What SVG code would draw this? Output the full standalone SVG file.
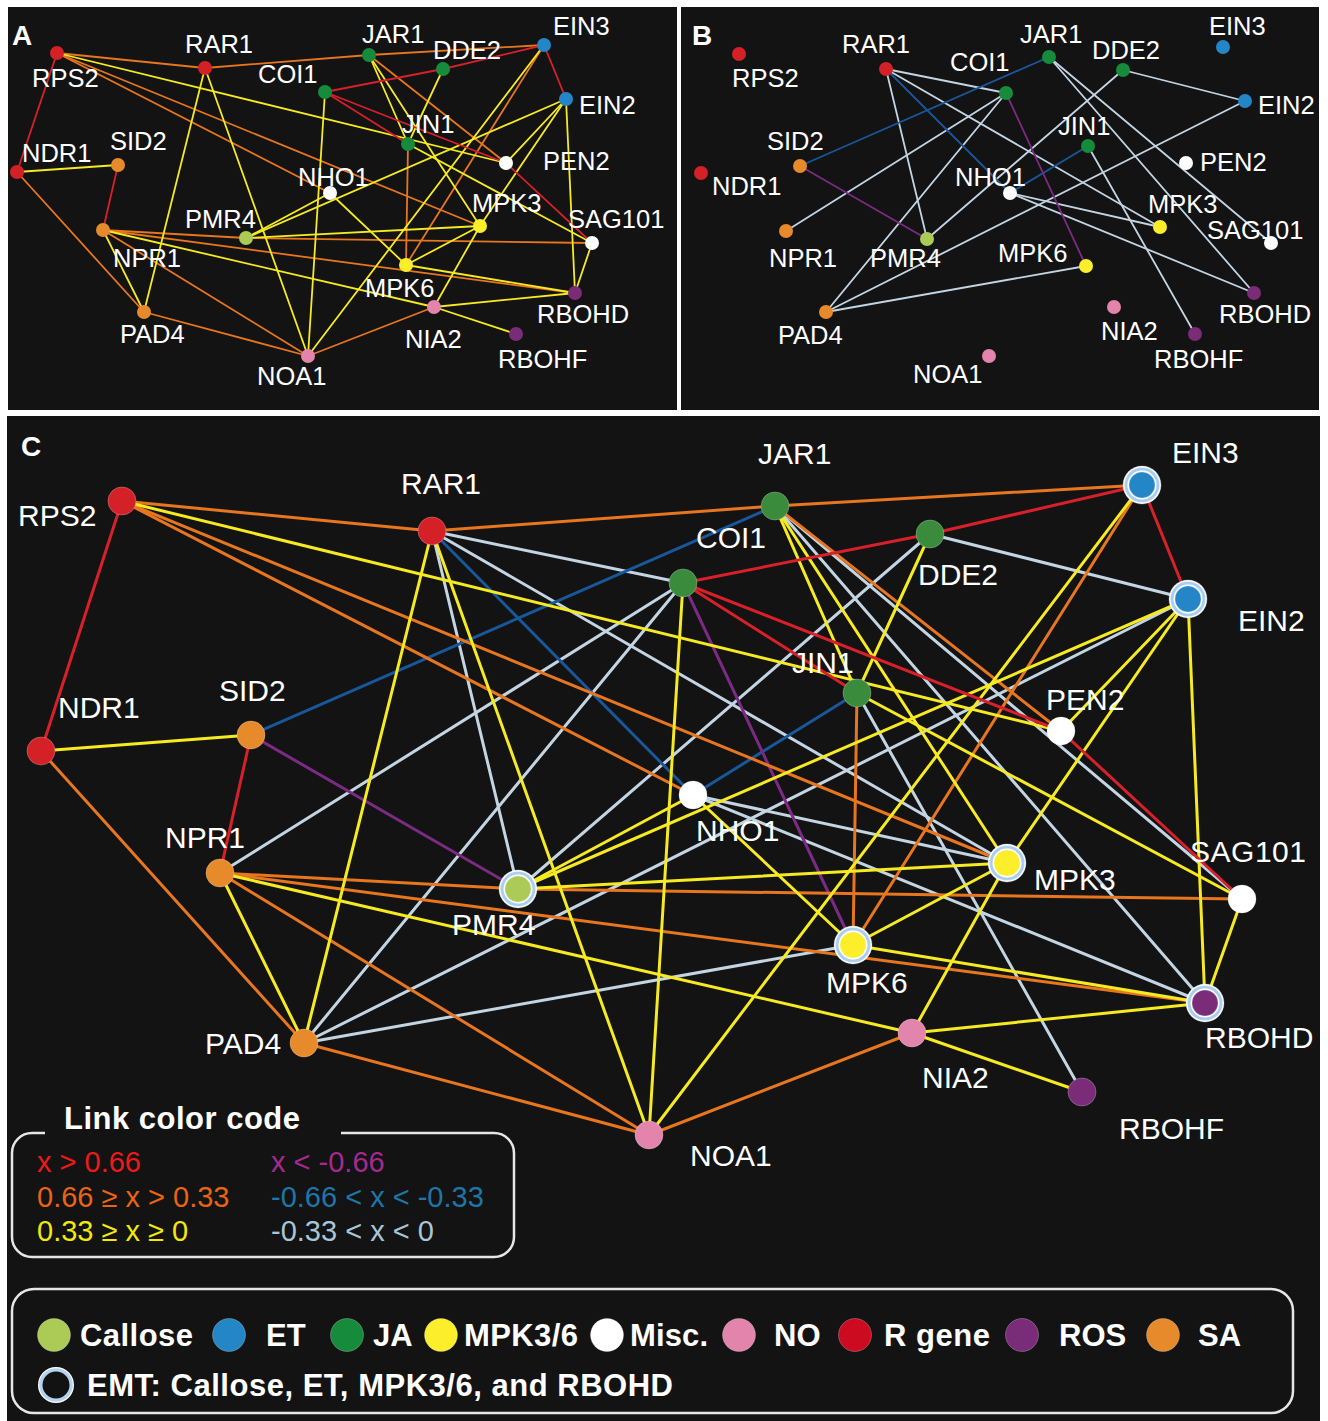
<svg xmlns="http://www.w3.org/2000/svg" width="1328" height="1421" viewBox="0 0 1328 1421">
<style>
.bg{fill:#131313}
line{stroke-linecap:round}
.cw line{stroke-width:3}
.aw line{stroke-width:1.8}
.r{stroke:#d7202a}.o{stroke:#e7761f}.y{stroke:#f6ea23}.l{stroke:#c3d5e3}.b{stroke:#18579a}.p{stroke:#7c2b84}
text{font-family:"Liberation Sans",Arial,Helvetica,sans-serif;fill:#ffffff}
.lc{font-size:30px}
.ls{font-size:25.5px}
.pl{font-size:28px;font-weight:bold}
.lg{font-size:31px;font-weight:bold}
.lk{font-size:29px}
.nR{fill:#d42027}.nSA{fill:#e78a2b}.nJA{fill:#3a8b3c}.nJA2{fill:#168b3c}.nET{fill:#2486c6}.nCa{fill:#abcb56}.nM{fill:#fcee2a}.nW{fill:#ffffff}.nNO{fill:#e284ab}.nROS{fill:#7a2c78}
.nc circle{stroke:rgba(255,255,255,0.25);stroke-width:1}
</style>
<rect x="0" y="0" width="1328" height="1421" fill="#ffffff"/>
<rect class="bg" x="8" y="7" width="669" height="403"/>
<rect class="bg" x="681" y="7" width="638" height="403"/>
<rect class="bg" x="7" y="416" width="1313" height="1005"/>

<text class="pl" x="12" y="45">A</text>
<text class="pl" x="692" y="45">B</text>
<text class="pl" x="21" y="456">C</text>

<!-- Panel A connectors -->
<g id="connectors-A" class="aw">
<line class="o" x1="57" y1="53" x2="205" y2="68"/>
<line class="o" x1="205" y1="68" x2="369" y2="55"/>
<line class="o" x1="369" y1="55" x2="544" y2="45"/>
<line class="o" x1="57" y1="53" x2="480" y2="226"/>
<line class="o" x1="57" y1="53" x2="330" y2="193"/>
<line class="o" x1="17" y1="172" x2="144" y2="312"/>
<line class="o" x1="144" y1="312" x2="308" y2="356"/>
<line class="o" x1="103" y1="230" x2="308" y2="356"/>
<line class="o" x1="103" y1="230" x2="246" y2="238"/>
<line class="o" x1="246" y1="238" x2="592" y2="243"/>
<line class="o" x1="103" y1="230" x2="575" y2="293"/>
<line class="o" x1="369" y1="55" x2="506" y2="163"/>
<line class="o" x1="408" y1="144" x2="406" y2="265"/>
<line class="o" x1="544" y1="45" x2="406" y2="265"/>
<line class="o" x1="308" y1="356" x2="434" y2="307"/>
<line class="y" x1="17" y1="172" x2="118" y2="165"/>
<line class="y" x1="103" y1="230" x2="144" y2="312"/>
<line class="y" x1="205" y1="68" x2="144" y2="312"/>
<line class="y" x1="205" y1="68" x2="308" y2="356"/>
<line class="y" x1="325" y1="92" x2="308" y2="356"/>
<line class="y" x1="544" y1="45" x2="308" y2="356"/>
<line class="y" x1="57" y1="53" x2="506" y2="163"/>
<line class="y" x1="369" y1="55" x2="408" y2="144"/>
<line class="y" x1="369" y1="55" x2="480" y2="226"/>
<line class="y" x1="443" y1="69" x2="408" y2="144"/>
<line class="y" x1="408" y1="144" x2="592" y2="243"/>
<line class="y" x1="246" y1="238" x2="330" y2="193"/>
<line class="y" x1="246" y1="238" x2="566" y2="99"/>
<line class="y" x1="246" y1="238" x2="480" y2="226"/>
<line class="y" x1="330" y1="193" x2="406" y2="265"/>
<line class="y" x1="406" y1="265" x2="480" y2="226"/>
<line class="y" x1="406" y1="265" x2="575" y2="293"/>
<line class="y" x1="566" y1="99" x2="480" y2="226"/>
<line class="y" x1="566" y1="99" x2="506" y2="163"/>
<line class="y" x1="566" y1="99" x2="575" y2="293"/>
<line class="y" x1="592" y1="243" x2="575" y2="293"/>
<line class="y" x1="103" y1="230" x2="434" y2="307"/>
<line class="y" x1="480" y1="226" x2="434" y2="307"/>
<line class="y" x1="434" y1="307" x2="575" y2="293"/>
<line class="y" x1="434" y1="307" x2="516" y2="334"/>
<line class="r" x1="57" y1="53" x2="17" y2="172"/>
<line class="r" x1="118" y1="165" x2="103" y2="230"/>
<line class="r" x1="325" y1="92" x2="443" y2="69"/>
<line class="r" x1="443" y1="69" x2="544" y2="45"/>
<line class="r" x1="544" y1="45" x2="566" y2="99"/>
<line class="r" x1="325" y1="92" x2="408" y2="144"/>
<line class="r" x1="325" y1="92" x2="506" y2="163"/>
<line class="r" x1="506" y1="163" x2="592" y2="243"/>
</g>

<!-- Panel B connectors -->
<g id="connectors-B" class="aw">
<line class="l" x1="886" y1="69" x2="1006" y2="93"/>
<line class="l" x1="886" y1="69" x2="1160" y2="227"/>
<line class="l" x1="886" y1="69" x2="927" y2="239"/>
<line class="l" x1="786" y1="231" x2="1006" y2="93"/>
<line class="l" x1="826" y1="312" x2="1006" y2="93"/>
<line class="l" x1="826" y1="312" x2="1245" y2="101"/>
<line class="l" x1="826" y1="312" x2="1086" y2="266"/>
<line class="l" x1="927" y1="239" x2="1123" y2="70"/>
<line class="l" x1="1088" y1="146" x2="1195" y2="334"/>
<line class="l" x1="1010" y1="193" x2="1160" y2="227"/>
<line class="l" x1="1010" y1="193" x2="1254" y2="293"/>
<line class="l" x1="1049" y1="57" x2="1254" y2="293"/>
<line class="l" x1="1049" y1="57" x2="1271" y2="243"/>
<line class="l" x1="1123" y1="70" x2="1245" y2="101"/>
<line class="b" x1="886" y1="69" x2="1010" y2="193"/>
<line class="b" x1="800" y1="166" x2="1049" y2="57"/>
<line class="b" x1="1088" y1="146" x2="1010" y2="193"/>
<line class="p" x1="800" y1="166" x2="927" y2="239"/>
<line class="p" x1="1006" y1="93" x2="1086" y2="266"/>
</g>

<!-- Panel C connectors -->
<g id="connectors-C" class="cw">
<line class="l" x1="432" y1="531" x2="683" y2="583"/>
<line class="l" x1="432" y1="531" x2="1007" y2="863"/>
<line class="l" x1="432" y1="531" x2="518" y2="889"/>
<line class="l" x1="220" y1="873" x2="683" y2="583"/>
<line class="l" x1="304" y1="1043" x2="683" y2="583"/>
<line class="l" x1="304" y1="1043" x2="1188" y2="599"/>
<line class="l" x1="304" y1="1043" x2="853" y2="945"/>
<line class="l" x1="518" y1="889" x2="930" y2="534"/>
<line class="l" x1="857" y1="693" x2="1082" y2="1092"/>
<line class="l" x1="693" y1="795" x2="1007" y2="863"/>
<line class="l" x1="693" y1="795" x2="1205" y2="1003"/>
<line class="l" x1="775" y1="506" x2="1205" y2="1003"/>
<line class="l" x1="775" y1="506" x2="1242" y2="899"/>
<line class="l" x1="930" y1="534" x2="1188" y2="599"/>
<line class="b" x1="432" y1="531" x2="693" y2="795"/>
<line class="b" x1="251" y1="735" x2="775" y2="506"/>
<line class="b" x1="857" y1="693" x2="693" y2="795"/>
<line class="p" x1="251" y1="735" x2="518" y2="889"/>
<line class="p" x1="683" y1="583" x2="853" y2="945"/>
<line class="o" x1="122" y1="501" x2="432" y2="531"/>
<line class="o" x1="432" y1="531" x2="775" y2="506"/>
<line class="o" x1="775" y1="506" x2="1142" y2="485"/>
<line class="o" x1="122" y1="501" x2="1007" y2="863"/>
<line class="o" x1="122" y1="501" x2="693" y2="795"/>
<line class="o" x1="41" y1="751" x2="304" y2="1043"/>
<line class="o" x1="304" y1="1043" x2="649" y2="1135"/>
<line class="o" x1="220" y1="873" x2="649" y2="1135"/>
<line class="o" x1="220" y1="873" x2="518" y2="889"/>
<line class="o" x1="518" y1="889" x2="1242" y2="899"/>
<line class="o" x1="220" y1="873" x2="1205" y2="1003"/>
<line class="o" x1="775" y1="506" x2="1061" y2="731"/>
<line class="o" x1="857" y1="693" x2="853" y2="945"/>
<line class="o" x1="1142" y1="485" x2="853" y2="945"/>
<line class="o" x1="649" y1="1135" x2="912" y2="1033"/>
<line class="y" x1="41" y1="751" x2="251" y2="735"/>
<line class="y" x1="220" y1="873" x2="304" y2="1043"/>
<line class="y" x1="432" y1="531" x2="304" y2="1043"/>
<line class="y" x1="432" y1="531" x2="649" y2="1135"/>
<line class="y" x1="683" y1="583" x2="649" y2="1135"/>
<line class="y" x1="1142" y1="485" x2="649" y2="1135"/>
<line class="y" x1="122" y1="501" x2="1061" y2="731"/>
<line class="y" x1="775" y1="506" x2="857" y2="693"/>
<line class="y" x1="775" y1="506" x2="1007" y2="863"/>
<line class="y" x1="930" y1="534" x2="857" y2="693"/>
<line class="y" x1="857" y1="693" x2="1242" y2="899"/>
<line class="y" x1="518" y1="889" x2="693" y2="795"/>
<line class="y" x1="518" y1="889" x2="1188" y2="599"/>
<line class="y" x1="518" y1="889" x2="1007" y2="863"/>
<line class="y" x1="693" y1="795" x2="853" y2="945"/>
<line class="y" x1="853" y1="945" x2="1007" y2="863"/>
<line class="y" x1="853" y1="945" x2="1205" y2="1003"/>
<line class="y" x1="1188" y1="599" x2="1007" y2="863"/>
<line class="y" x1="1188" y1="599" x2="1061" y2="731"/>
<line class="y" x1="1188" y1="599" x2="1205" y2="1003"/>
<line class="y" x1="1242" y1="899" x2="1205" y2="1003"/>
<line class="y" x1="220" y1="873" x2="912" y2="1033"/>
<line class="y" x1="1007" y1="863" x2="912" y2="1033"/>
<line class="y" x1="912" y1="1033" x2="1205" y2="1003"/>
<line class="y" x1="912" y1="1033" x2="1082" y2="1092"/>
<line class="r" x1="122" y1="501" x2="41" y2="751"/>
<line class="r" x1="251" y1="735" x2="220" y2="873"/>
<line class="r" x1="683" y1="583" x2="930" y2="534"/>
<line class="r" x1="930" y1="534" x2="1142" y2="485"/>
<line class="r" x1="1142" y1="485" x2="1188" y2="599"/>
<line class="r" x1="683" y1="583" x2="857" y2="693"/>
<line class="r" x1="683" y1="583" x2="1061" y2="731"/>
<line class="r" x1="1061" y1="731" x2="1242" y2="899"/>
</g>

<!-- Panel A nodes -->
<g id="A-RPS2"><circle class="nR" cx="57" cy="53" r="7"/><text class="ls" x="32" y="87">RPS2</text></g>
<g id="A-RAR1"><circle class="nR" cx="205" cy="68" r="7"/><text class="ls" x="185" y="53">RAR1</text></g>
<g id="A-COI1"><circle class="nJA2" cx="325" cy="92" r="7"/><text class="ls" x="258" y="83">COI1</text></g>
<g id="A-JAR1"><circle class="nJA2" cx="369" cy="55" r="7"/><text class="ls" x="362" y="43">JAR1</text></g>
<g id="A-DDE2"><circle class="nJA2" cx="443" cy="69" r="7"/><text class="ls" x="433" y="59">DDE2</text></g>
<g id="A-EIN3"><circle class="nET" cx="544" cy="45" r="7"/><text class="ls" x="553" y="35">EIN3</text></g>
<g id="A-EIN2"><circle class="nET" cx="566" cy="99" r="7"/><text class="ls" x="579" y="114">EIN2</text></g>
<g id="A-JIN1"><circle class="nJA2" cx="408" cy="144" r="7"/><text class="ls" x="402" y="133">JIN1</text></g>
<g id="A-PEN2"><circle class="nW" cx="506" cy="163" r="7"/><text class="ls" x="543" y="170">PEN2</text></g>
<g id="A-NHO1"><circle class="nW" cx="330" cy="193" r="7"/><text class="ls" x="298" y="186">NHO1</text></g>
<g id="A-NDR1"><circle class="nR" cx="17" cy="172" r="7"/><text class="ls" x="22" y="162">NDR1</text></g>
<g id="A-SID2"><circle class="nSA" cx="118" cy="165" r="7"/><text class="ls" x="110" y="150">SID2</text></g>
<g id="A-NPR1"><circle class="nSA" cx="103" cy="230" r="7"/><text class="ls" x="113" y="267">NPR1</text></g>
<g id="A-PMR4"><circle class="nCa" cx="246" cy="238" r="7"/><text class="ls" x="185" y="228">PMR4</text></g>
<g id="A-MPK3"><circle class="nM" cx="480" cy="226" r="7"/><text class="ls" x="472" y="212">MPK3</text></g>
<g id="A-SAG101"><circle class="nW" cx="592" cy="243" r="7"/><text class="ls" x="568" y="228">SAG101</text></g>
<g id="A-MPK6"><circle class="nM" cx="406" cy="265" r="7"/><text class="ls" x="365" y="297">MPK6</text></g>
<g id="A-RBOHD"><circle class="nROS" cx="575" cy="293" r="7"/><text class="ls" x="537" y="323">RBOHD</text></g>
<g id="A-NIA2"><circle class="nNO" cx="434" cy="307" r="7"/><text class="ls" x="405" y="348">NIA2</text></g>
<g id="A-RBOHF"><circle class="nROS" cx="516" cy="334" r="7"/><text class="ls" x="498" y="368">RBOHF</text></g>
<g id="A-PAD4"><circle class="nSA" cx="144" cy="312" r="7"/><text class="ls" x="120" y="343">PAD4</text></g>
<g id="A-NOA1"><circle class="nNO" cx="308" cy="356" r="7"/><text class="ls" x="257" y="385">NOA1</text></g>

<!-- Panel B nodes -->
<g id="B-RPS2"><circle class="nR" cx="739" cy="54" r="7"/><text class="ls" x="732" y="87">RPS2</text></g>
<g id="B-RAR1"><circle class="nR" cx="886" cy="69" r="7"/><text class="ls" x="842" y="53">RAR1</text></g>
<g id="B-COI1"><circle class="nJA2" cx="1006" cy="93" r="7"/><text class="ls" x="950" y="71">COI1</text></g>
<g id="B-JAR1"><circle class="nJA2" cx="1049" cy="57" r="7"/><text class="ls" x="1020" y="43">JAR1</text></g>
<g id="B-DDE2"><circle class="nJA2" cx="1123" cy="70" r="7"/><text class="ls" x="1092" y="59">DDE2</text></g>
<g id="B-EIN3"><circle class="nET" cx="1223" cy="47" r="7"/><text class="ls" x="1209" y="35">EIN3</text></g>
<g id="B-EIN2"><circle class="nET" cx="1245" cy="101" r="7"/><text class="ls" x="1258" y="114">EIN2</text></g>
<g id="B-JIN1"><circle class="nJA2" cx="1088" cy="146" r="7"/><text class="ls" x="1058" y="135">JIN1</text></g>
<g id="B-PEN2"><circle class="nW" cx="1186" cy="163" r="7"/><text class="ls" x="1200" y="171">PEN2</text></g>
<g id="B-NHO1"><circle class="nW" cx="1010" cy="193" r="7"/><text class="ls" x="955" y="186">NHO1</text></g>
<g id="B-NDR1"><circle class="nR" cx="701" cy="173" r="7"/><text class="ls" x="712" y="195">NDR1</text></g>
<g id="B-SID2"><circle class="nSA" cx="800" cy="166" r="7"/><text class="ls" x="767" y="150">SID2</text></g>
<g id="B-NPR1"><circle class="nSA" cx="786" cy="231" r="7"/><text class="ls" x="769" y="267">NPR1</text></g>
<g id="B-PMR4"><circle class="nCa" cx="927" cy="239" r="7"/><text class="ls" x="870" y="267">PMR4</text></g>
<g id="B-MPK3"><circle class="nM" cx="1160" cy="227" r="7"/><text class="ls" x="1148" y="213">MPK3</text></g>
<g id="B-SAG101"><circle class="nW" cx="1271" cy="243" r="7"/><text class="ls" x="1207" y="239">SAG101</text></g>
<g id="B-MPK6"><circle class="nM" cx="1086" cy="266" r="7"/><text class="ls" x="998" y="262">MPK6</text></g>
<g id="B-RBOHD"><circle class="nROS" cx="1254" cy="293" r="7"/><text class="ls" x="1219" y="323">RBOHD</text></g>
<g id="B-NIA2"><circle class="nNO" cx="1114" cy="307" r="7"/><text class="ls" x="1101" y="340">NIA2</text></g>
<g id="B-RBOHF"><circle class="nROS" cx="1195" cy="334" r="7"/><text class="ls" x="1154" y="368">RBOHF</text></g>
<g id="B-PAD4"><circle class="nSA" cx="826" cy="312" r="7"/><text class="ls" x="778" y="344">PAD4</text></g>
<g id="B-NOA1"><circle class="nNO" cx="989" cy="356" r="7"/><text class="ls" x="913" y="383">NOA1</text></g>

<!-- Panel C nodes -->
<g class="nc">
<g id="C-RPS2"><circle class="nR" cx="122" cy="501" r="14"/><text class="lc" x="18" y="526">RPS2</text></g>
<g id="C-RAR1"><circle class="nR" cx="432" cy="531" r="14"/><text class="lc" x="401" y="494">RAR1</text></g>
<g id="C-JAR1"><circle class="nJA" cx="775" cy="506" r="14"/><text class="lc" x="758" y="464">JAR1</text></g>
<g id="C-COI1"><circle class="nJA" cx="683" cy="583" r="14"/><text class="lc" x="696" y="548">COI1</text></g>
<g id="C-DDE2"><circle class="nJA" cx="930" cy="534" r="14"/><text class="lc" x="918" y="585">DDE2</text></g>
<g id="C-EIN3"><circle cx="1142" cy="485" r="19" fill="#ffffff" stroke="none"/><circle cx="1142" cy="485" r="17.6" fill="#a9cef0" stroke="none"/><circle cx="1142" cy="485" r="14.4" fill="#ffffff" stroke="none"/><circle class="nET" cx="1142" cy="485" r="13" stroke="none"/><text class="lc" x="1172" y="463">EIN3</text></g>
<g id="C-EIN2"><circle cx="1188" cy="599" r="19" fill="#ffffff" stroke="none"/><circle cx="1188" cy="599" r="17.6" fill="#a9cef0" stroke="none"/><circle cx="1188" cy="599" r="14.4" fill="#ffffff" stroke="none"/><circle class="nET" cx="1188" cy="599" r="13" stroke="none"/><text class="lc" x="1238" y="631">EIN2</text></g>
<g id="C-JIN1"><circle class="nJA" cx="857" cy="693" r="14"/><text class="lc" x="792" y="673">JIN1</text></g>
<g id="C-PEN2"><circle class="nW" cx="1061" cy="731" r="14"/><text class="lc" x="1046" y="710">PEN2</text></g>
<g id="C-NHO1"><circle class="nW" cx="693" cy="795" r="14"/><text class="lc" x="696" y="841">NHO1</text></g>
<g id="C-NDR1"><circle class="nR" cx="41" cy="751" r="14"/><text class="lc" x="58" y="718">NDR1</text></g>
<g id="C-SID2"><circle class="nSA" cx="251" cy="735" r="14"/><text class="lc" x="219" y="701">SID2</text></g>
<g id="C-NPR1"><circle class="nSA" cx="220" cy="873" r="14"/><text class="lc" x="165" y="848">NPR1</text></g>
<g id="C-PMR4"><circle cx="518" cy="889" r="19" fill="#ffffff" stroke="none"/><circle cx="518" cy="889" r="17.6" fill="#a9cef0" stroke="none"/><circle cx="518" cy="889" r="14.4" fill="#ffffff" stroke="none"/><circle class="nCa" cx="518" cy="889" r="13" stroke="none"/><text class="lc" x="452" y="935">PMR4</text></g>
<g id="C-MPK3"><circle cx="1007" cy="863" r="19" fill="#ffffff" stroke="none"/><circle cx="1007" cy="863" r="17.6" fill="#a9cef0" stroke="none"/><circle cx="1007" cy="863" r="14.4" fill="#ffffff" stroke="none"/><circle class="nM" cx="1007" cy="863" r="13" stroke="none"/><text class="lc" x="1034" y="890">MPK3</text></g>
<g id="C-SAG101"><circle class="nW" cx="1242" cy="899" r="14"/><text class="lc" x="1190" y="862" textLength="116">SAG101</text></g>
<g id="C-MPK6"><circle cx="853" cy="945" r="19" fill="#ffffff" stroke="none"/><circle cx="853" cy="945" r="17.6" fill="#a9cef0" stroke="none"/><circle cx="853" cy="945" r="14.4" fill="#ffffff" stroke="none"/><circle class="nM" cx="853" cy="945" r="13" stroke="none"/><text class="lc" x="826" y="993">MPK6</text></g>
<g id="C-RBOHD"><circle cx="1205" cy="1003" r="19" fill="#ffffff" stroke="none"/><circle cx="1205" cy="1003" r="17.6" fill="#a9cef0" stroke="none"/><circle cx="1205" cy="1003" r="14.4" fill="#ffffff" stroke="none"/><circle class="nROS" cx="1205" cy="1003" r="13" stroke="none"/><text class="lc" x="1205" y="1048">RBOHD</text></g>
<g id="C-NIA2"><circle class="nNO" cx="912" cy="1033" r="14"/><text class="lc" x="922" y="1088">NIA2</text></g>
<g id="C-RBOHF"><circle class="nROS" cx="1082" cy="1092" r="14"/><text class="lc" x="1119" y="1139">RBOHF</text></g>
<g id="C-PAD4"><circle class="nSA" cx="304" cy="1043" r="14"/><text class="lc" x="205" y="1054">PAD4</text></g>
<g id="C-NOA1"><circle class="nNO" cx="649" cy="1135" r="14"/><text class="lc" x="690" y="1166">NOA1</text></g>
</g>

<!-- Link color legend -->
<g id="legend-links">
<path d="M45,1133 H32 A20,20 0 0 0 12,1153 V1237 A20,20 0 0 0 32,1257 H494 A20,20 0 0 0 514,1237 V1153 A20,20 0 0 0 494,1133 H341" fill="none" stroke="#e6e6e6" stroke-width="2.5"/>
<text class="lg" x="64" y="1129" textLength="236">Link color code</text>
<text class="lk" x="37" y="1172" style="fill:#ee1a1a">x &gt; 0.66</text>
<text class="lk" x="37" y="1207" style="fill:#ea6412">0.66 ≥ x &gt; 0.33</text>
<text class="lk" x="37" y="1241" style="fill:#f2e80e">0.33 ≥ x ≥ 0</text>
<text class="lk" x="271" y="1172" style="fill:#a42a90">x &lt; -0.66</text>
<text class="lk" x="271" y="1207" style="fill:#1f76a8">-0.66 &lt; x &lt; -0.33</text>
<text class="lk" x="271" y="1241" style="fill:#a8c6d6">-0.33 &lt; x &lt; 0</text>
</g>

<!-- Category legend -->
<g id="legend-categories">
<rect x="12" y="1289" width="1281" height="124" rx="22" fill="none" stroke="#e6e6e6" stroke-width="2.5"/>
<g class="nc">
<circle class="nCa" cx="54" cy="1335" r="16.5"/>
<circle class="nET" cx="229" cy="1335" r="16.5"/>
<circle class="nJA2" cx="347" cy="1335" r="16.5"/>
<circle class="nM" cx="441" cy="1335" r="16.5"/>
<circle class="nW" cx="607" cy="1335" r="16.5"/>
<circle class="nNO" cx="739" cy="1335" r="16.5"/>
<circle fill="#cc0a20" cx="855" cy="1335" r="16.5"/>
<circle class="nROS" cx="1022" cy="1335" r="16.5"/>
<circle class="nSA" cx="1163" cy="1335" r="16.5"/>
</g>
<text class="lg" x="80" y="1346" textLength="113">Callose</text>
<text class="lg" x="266" y="1346">ET</text>
<text class="lg" x="373" y="1346">JA</text>
<text class="lg" x="464" y="1346" textLength="114">MPK3/6</text>
<text class="lg" x="630" y="1346" textLength="78">Misc.</text>
<text class="lg" x="774" y="1346">NO</text>
<text class="lg" x="884" y="1346" textLength="106">R gene</text>
<text class="lg" x="1059" y="1346">ROS</text>
<text class="lg" x="1198" y="1346">SA</text>
<circle cx="56" cy="1385" r="18" fill="#ffffff"/>
<circle cx="56" cy="1385" r="16.8" fill="#b3d2f0"/>
<circle cx="56" cy="1385" r="13.5" fill="#121212"/>
<text class="lg" x="87" y="1396" textLength="586">EMT: Callose, ET, MPK3/6, and RBOHD</text>
</g>
</svg>
